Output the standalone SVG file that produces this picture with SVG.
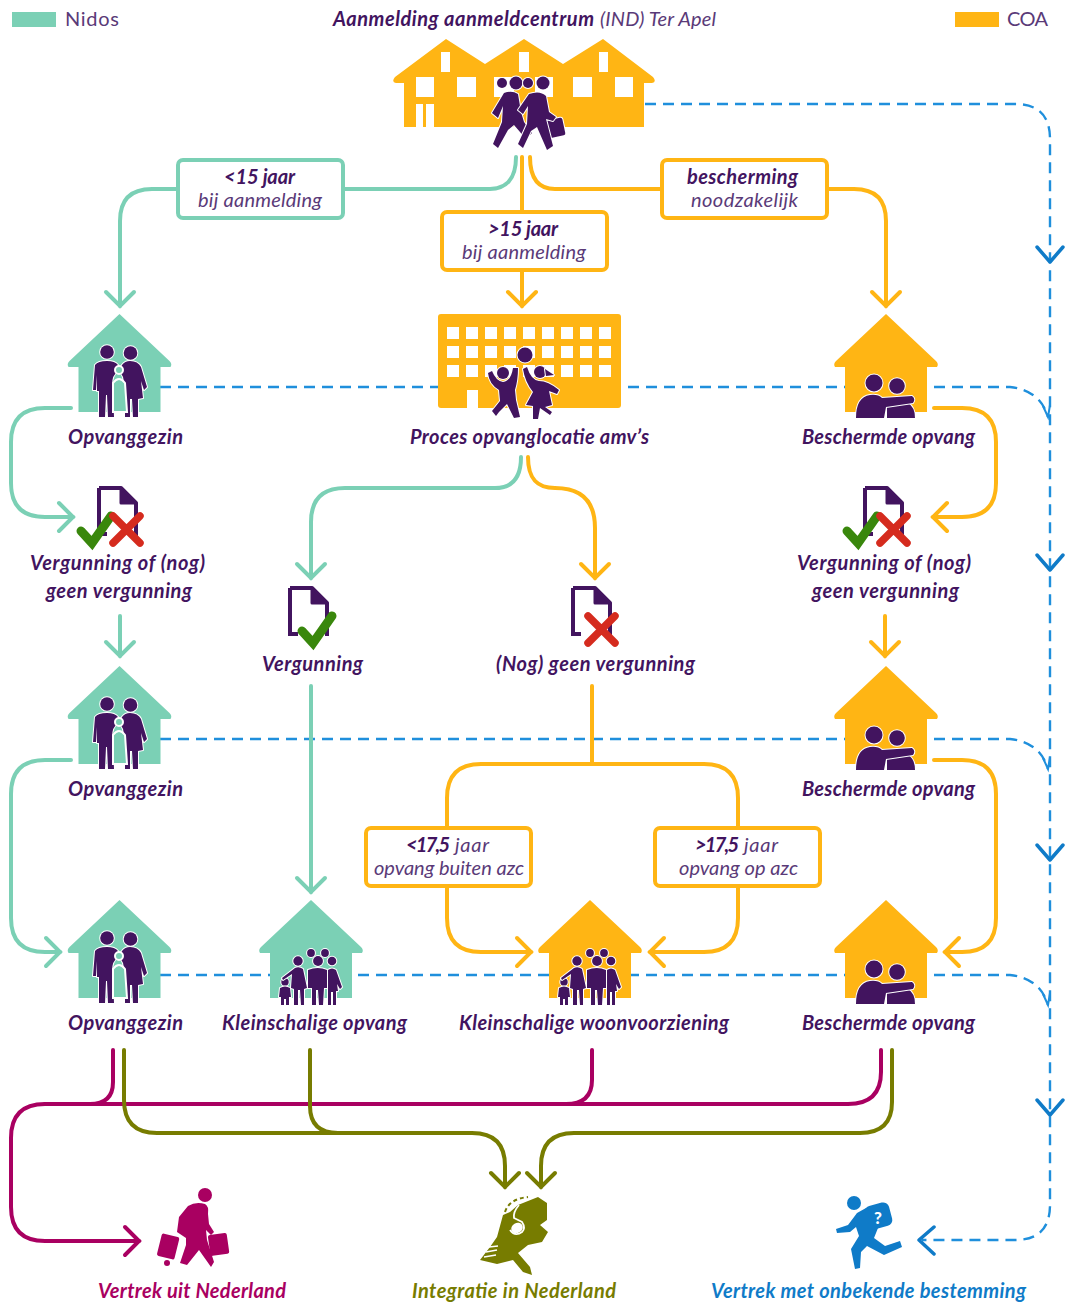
<svg xmlns="http://www.w3.org/2000/svg" width="1065" height="1306" viewBox="0 0 1065 1306">
<style>
text{font-family:"Lato","Open Sans","Liberation Sans",sans-serif;font-style:italic;font-size:20px;fill:#42145f}
.b{font-weight:700}.l{font-weight:400;fill:#5a3a78}
.n{font-style:normal;font-weight:400;fill:#5a3a78}
.c{fill:none;stroke-width:4;stroke-linecap:round;stroke-linejoin:round}
.m{stroke:#7bd0b5}.a{stroke:#ffb514}.r{stroke:#a90061}.o{stroke:#777c00}
.d{fill:none;stroke:#1f8fdc;stroke-width:2.4;stroke-dasharray:11 7}
.box{fill:#fff;stroke-width:4}
.p{fill:#42145f;stroke:#fff;stroke-width:2;paint-order:stroke;stroke-linejoin:round}
.hm{fill:#7bd0b5}.ha{fill:#ffb514}
.w{fill:#fff}
.kid{stroke:#fff;stroke-width:2}
</style>
<defs>
<marker id="am" markerUnits="userSpaceOnUse" markerWidth="30" markerHeight="34" refX="17" refY="17" orient="auto"><path d="M3,3 L17,17 L3,31" fill="none" stroke="#7bd0b5" stroke-width="4" stroke-linecap="round"/></marker>
<marker id="aa" markerUnits="userSpaceOnUse" markerWidth="30" markerHeight="34" refX="17" refY="17" orient="auto"><path d="M3,3 L17,17 L3,31" fill="none" stroke="#ffb514" stroke-width="4" stroke-linecap="round"/></marker>
<marker id="ar" markerUnits="userSpaceOnUse" markerWidth="30" markerHeight="34" refX="17" refY="17" orient="auto"><path d="M3,3 L17,17 L3,31" fill="none" stroke="#a90061" stroke-width="4" stroke-linecap="round"/></marker>
<marker id="ao" markerUnits="userSpaceOnUse" markerWidth="30" markerHeight="34" refX="17" refY="17" orient="auto"><path d="M3,3 L17,17 L3,31" fill="none" stroke="#777c00" stroke-width="4" stroke-linecap="round"/></marker>
<path id="house" d="M0,-1 L50,46 Q53,49 51,52 L41,52 L41,97 L-41,97 L-41,52 L-51,52 Q-53,49 -50,46 Z" stroke-linejoin="round"/>
<g id="fam3">
<circle class="p" cx="-13" cy="37" r="6.8"/><circle class="p" cx="10.500" cy="38" r="6.8"/>
<path class="p" d="M-25,50 Q-22,46 -13,46 Q-5,46 -2,50 L-2,56 Q-8,60 -8,70 L-7,78 L-6,102 L-12,102 L-13,80 L-14,80 L-15,102 L-21,102 L-21,76 L-23,76 L-23,60 L-24,75 L-27,75 Z"/>
<path class="p" d="M2,50 Q5,46 10,46 Q18,46 21,52 L27,72 L24,75 L21,66 L23,83 L18,84 L18,102 L13,102 L12,84 L10,84 L10,102 L5,102 L5,84 L4,70 Q4,60 -1,56 Z"/>
<circle class="kid" cx="-1" cy="55" r="4"/>
<path class="kid" d="M-7,97 L-7,68 Q-1,60 5,68 L7,97 Z"/>
</g>
<g id="couple">
<circle class="p" cx="-12" cy="68" r="8.5"/><circle class="p" cx="11" cy="71" r="7.8"/>
<path class="p" d="M1,103 L1,90 L22,88 Q29,92 29,103 Z"/>
<path class="p" d="M-30,103 Q-30,82 -16,80 Q-8,79 -4,83 L26,81 Q30,84 27,88 L0,92 L-2,103 Z"/>
</g>
<g id="famS">
<circle class="p" cx="0" cy="53" r="3.9"/><circle class="p" cx="14" cy="53" r="3.9"/>
<circle class="p" cx="-13" cy="61" r="4.7"/><circle class="p" cx="7" cy="61" r="4.9"/><circle class="p" cx="21" cy="61" r="4.3"/><circle class="p" cx="-26" cy="82" r="3.7"/>
<path class="p" d="M-29,78 L-16,68 Q-12,66 -8,69 L-4,88 L-7,89 L-7,105 L-10,105 L-11,90 L-13,90 L-13,105 L-17,105 L-17,89 L-20,88 L-19,74 L-28,80 Z"/>
<path class="p" d="M-3,70 Q7,66 16,70 L17,88 L13,88 L12,105 L8,105 L7,90 L5,90 L5,105 L1,105 L1,88 L-3,88 Z"/>
<path class="p" d="M17,70 Q21,67 25,70 L31,87 L29,89 L26,84 L27,91 L25,91 L25,105 L22,105 L22,92 L20,92 L20,105 L17,105 Z"/>
<path class="p" d="M-31,88 Q-26,85 -21,88 L-20,97 L-22,97 L-22,105 L-25,105 L-25,99 L-27,99 L-27,105 L-30,105 L-30,97 L-32,97 Z"/>
</g>
<g id="doc">
<path d="M2,2 L24,2 L39,17 L39,50" fill="none" stroke="#42145f" stroke-width="4" stroke-linejoin="round"/>
<path d="M2,2 L2,48 L10,48" fill="none" stroke="#42145f" stroke-width="4"/>
<path d="M24,2 L39,17 L24,17 Z" fill="#42145f" stroke="#42145f" stroke-width="3" stroke-linejoin="round"/>
</g>
<path id="check" d="M4,20 L15,32 L34,5" fill="none" stroke="#39870c" stroke-width="9" stroke-linecap="round"/>
<path id="cross" d="M6,5 L33,32 M33,5 L6,32" fill="none" stroke="#d52b1e" stroke-width="7.500" stroke-linecap="round"/>
</defs>
<rect width="1065" height="1306" fill="#fff"/>
<g id="connectors">
<g id="dashed">
<path class="d" d="M645,104 L1015,104 Q1050,104 1050,139 L1050,1205 Q1050,1240 1015,1240 L922,1240"/>
<path class="d" d="M160,387 L1010,387 Q1040,390 1048,417"/>
<path class="d" d="M160,739 L1010,739 Q1040,742 1048,769"/>
<path class="d" d="M160,975 L1010,975 Q1040,978 1048,1005"/>
<path d="M1037,247 L1050,262 L1063,247 M1037,555 L1050,570 L1063,555 M1037,845 L1050,860 L1063,845 M1037,1100 L1050,1115 L1063,1100 M934,1227 L919,1240 L934,1254" fill="none" stroke="#0f7bc8" stroke-width="3.500" stroke-linecap="round" stroke-linejoin="round"/>
<path d="M1043,406 L1048,417 L1050,405 M1043,758 L1048,769 L1050,757 M1043,994 L1048,1005 L1050,993" fill="none" stroke="#1f8fdc" stroke-width="2"/>
</g>
<g id="mint-lines">
<path class="c m" marker-end="url(#am)" d="M516,157 C516,180 505,189 490,189 L152,189 Q120,189 120,221 L120,306"/>
<path class="c m" marker-end="url(#am)" d="M71,408 L45,408 Q11,408 11,442 L11,483 Q11,517 45,517 L73,517"/>
<path class="c m" marker-end="url(#am)" d="M120,616 L120,656"/>
<path class="c m" marker-end="url(#am)" d="M71,760 L45,760 Q11,760 11,794 L11,918 Q11,952 45,952 L60,952"/>
<path class="c m" marker-end="url(#am)" d="M521,457 C521,480 510,488 495,488 L345,488 Q311,488 311,522 L311,578"/>
<path class="c m" marker-end="url(#am)" d="M311,686 L311,892"/>
</g>
<g id="amber-lines">
<path class="c a" marker-end="url(#aa)" d="M522,157 L522,306"/>
<path class="c a" marker-end="url(#aa)" d="M530,157 C530,180 540,189 555,189 L854,189 Q886,189 886,221 L886,306"/>
<path class="c a" marker-end="url(#aa)" d="M934,408 L962,408 Q996,408 996,442 L996,483 Q996,517 962,517 L933,517"/>
<path class="c a" marker-end="url(#aa)" d="M885,616 L885,656"/>
<path class="c a" marker-end="url(#aa)" d="M934,760 L962,760 Q996,760 996,794 L996,918 Q996,952 962,952 L945,952"/>
<path class="c a" marker-end="url(#aa)" d="M528,457 C528,480 538,488 555,488 Q595,488 595,528 L595,578"/>
<path class="c a" d="M592,686 L592,764"/>
<path class="c a" marker-end="url(#aa)" d="M592,764 L481,764 Q447,764 447,798 L447,918 Q447,952 481,952 L531,952"/>
<path class="c a" marker-end="url(#aa)" d="M592,764 L704,764 Q738,764 738,798 L738,918 Q738,952 704,952 L650,952"/>
</g>
<g id="magenta-lines">
<path class="c r" marker-end="url(#ar)" d="M113,1050 L113,1082 Q113,1104 90,1104 L45,1104 Q11,1104 11,1138 L11,1207 Q11,1241 45,1241 L139,1241"/>
<path class="c r" d="M45,1104 L848,1104 Q881,1104 881,1072 L881,1050"/>
<path class="c r" d="M592,1050 L592,1080 Q592,1104 566,1104"/>
</g>
<g id="olive-lines">
<path class="c o" marker-end="url(#ao)" d="M124,1050 L124,1100 Q124,1133 157,1133 L472,1133 Q505,1133 505,1166 L505,1187"/>
<path class="c o" d="M310,1050 L310,1106 Q310,1133 338,1133"/>
<path class="c o" marker-end="url(#ao)" d="M892,1050 L892,1102 Q892,1133 860,1133 L574,1133 Q541,1133 541,1166 L541,1187"/>
</g>
</g>

<g id="legend-nidos"><rect x="12" y="12" width="44" height="15" class="hm"/><text class="n" x="65" y="26" textLength="54">Nidos</text></g>
<g id="legend-coa"><rect x="955" y="12" width="44" height="15" class="ha"/><text class="n" x="1007" y="26" textLength="41">COA</text></g>

<g id="aanmelding">
<text y="26"><tspan class="b" x="333" textLength="261">Aanmelding aanmeldcentrum</tspan> <tspan class="l" x="600" textLength="116">(IND) Ter Apel</tspan></text>
<path class="ha" d="M446,39 L485,64 L524,39 L563,64 L603,39 L653,77 Q657,82 652,83 L644,83 L644,127 L404,127 L404,83 L396,83 Q391,82 395,77 Z"/>
<g class="w"><rect x="441" y="52" width="9" height="20"/><rect x="519" y="52" width="10" height="20"/><rect x="599" y="52" width="9" height="20"/><rect x="416" y="77" width="18" height="20"/><rect x="457" y="77" width="19" height="20"/><rect x="494" y="77" width="20" height="20"/><rect x="535" y="77" width="18" height="20"/><rect x="573" y="77" width="19" height="20"/><rect x="615" y="77" width="18" height="20"/><rect x="416" y="104" width="7" height="23"/><rect x="426" y="104" width="8" height="23"/></g>
<circle class="p" cx="502" cy="83" r="5"/><circle class="p" cx="516" cy="83" r="6.500"/><circle class="p" cx="528" cy="83" r="5"/><circle class="p" cx="543" cy="83" r="6.500"/>
<path class="p" d="M504,93 Q512,90 518,94 L521,112 L524,122 L532,133 L526,139 L514,125 L508,130 L498,148 L493,144 L502,122 L503,106 L498,118 L492,113 Z"/>
<rect class="p" x="547" y="119" width="17" height="18" rx="2" transform="rotate(-12 555 128)"/>
<path class="p" d="M529,94 Q540,90 546,96 L549,112 L556,117 L553,121 L546,119 L553,146 L547,150 L537,127 L531,131 L523,148 L518,144 L527,124 L528,106 L523,114 L518,110 Z"/>
</g>

<g id="label-lt15"><rect class="box m" x="178" y="160" width="165" height="58" rx="5"/><text class="b" x="224" y="184" textLength="71">&lt;15 jaar</text><text class="l" x="198" y="207" textLength="124">bij aanmelding</text></g>
<g id="label-gt15"><rect class="box a" x="442" y="212" width="165" height="58" rx="5"/><text class="b" x="488" y="236" textLength="70">&gt;15 jaar</text><text class="l" x="462" y="259" textLength="124">bij aanmelding</text></g>
<g id="label-bescherming"><rect class="box a" x="662" y="160" width="165" height="58" rx="5"/><text class="b" x="687" y="184" textLength="111">bescherming</text><text class="l" x="691" y="207" textLength="107">noodzakelijk</text></g>

<g id="opvanggezin-1"><use href="#house" x="119.500" y="315" class="hm"/><use href="#fam3" x="120" y="315" class="hm"/><text class="b" x="68" y="444" textLength="115">Opvanggezin</text></g>
<g id="proces">
<rect class="ha" x="438" y="314" width="183" height="94" rx="3"/>
<g class="w" id="wins">
<rect x="447" y="327" width="12" height="12"/><rect x="466" y="327" width="12" height="12"/><rect x="485" y="327" width="12" height="12"/><rect x="504" y="327" width="12" height="12"/><rect x="523" y="327" width="12" height="12"/><rect x="542" y="327" width="12" height="12"/><rect x="561" y="327" width="12" height="12"/><rect x="580" y="327" width="12" height="12"/><rect x="599" y="327" width="12" height="12"/>
<rect x="447" y="346" width="12" height="12"/><rect x="466" y="346" width="12" height="12"/><rect x="485" y="346" width="12" height="12"/><rect x="504" y="346" width="12" height="12"/><rect x="523" y="346" width="12" height="12"/><rect x="542" y="346" width="12" height="12"/><rect x="561" y="346" width="12" height="12"/><rect x="580" y="346" width="12" height="12"/><rect x="599" y="346" width="12" height="12"/>
<rect x="447" y="365" width="12" height="12"/><rect x="466" y="365" width="12" height="12"/><rect x="485" y="365" width="12" height="12"/><rect x="504" y="365" width="12" height="12"/><rect x="523" y="365" width="12" height="12"/><rect x="542" y="365" width="12" height="12"/><rect x="561" y="365" width="12" height="12"/><rect x="580" y="365" width="12" height="12"/><rect x="599" y="365" width="12" height="12"/>
<rect x="467" y="390" width="11" height="18"/></g>
<circle class="p" cx="525" cy="355" r="7.500"/><circle class="p" cx="503" cy="373" r="6"/><circle class="p" cx="540" cy="372" r="6"/>
<path class="p" d="M488,373 L492,371 Q496,381 503,382 Q511,381 513,368 L518,368 Q518,380 515,390 L516,400 L520,417 L514,418 L507,404 L499,412 L496,416 L492,411 L500,401 L499,390 Q489,384 488,373 Z"/>
<path class="p" d="M523,369 L527,367 Q531,380 539,381 Q548,381 559,390 L557,394 L549,391 L552,405 L545,407 L552,412 L550,415 L540,408 L538,419 L533,419 L533,406 L526,405 L533,392 Q525,382 523,369 Z"/>
<path class="p" d="M545,369 L554,375 L546,376 Z"/>
<text class="b" x="410" y="444" textLength="239">Proces opvanglocatie amv’s</text></g>
<g id="beschermd-1"><use href="#house" x="886" y="315" class="ha"/><use href="#couple" x="886" y="315"/><text class="b" x="802" y="444" textLength="173">Beschermde opvang</text></g>

<g id="keuze-links"><use href="#doc" x="97" y="486"/><use href="#check" x="77" y="511"/><use href="#cross" x="107" y="511"/><text class="b" x="30" y="570" textLength="175">Vergunning of (nog)</text><text class="b" x="46" y="598" textLength="146">geen vergunning</text></g>
<g id="keuze-rechts"><use href="#doc" x="863" y="486"/><use href="#check" x="843" y="511"/><use href="#cross" x="874" y="511"/><text class="b" x="797" y="570" textLength="174">Vergunning of (nog)</text><text class="b" x="812" y="598" textLength="147">geen vergunning</text></g>
<g id="vergunning"><use href="#doc" x="288" y="586"/><use href="#check" x="298" y="611"/><text class="b" x="262" y="671" textLength="101">Vergunning</text></g>
<g id="geen-vergunning"><use href="#doc" x="571" y="586"/><use href="#cross" x="582" y="611"/><text class="b" x="496" y="671" textLength="199">(Nog) geen vergunning</text></g>

<g id="opvanggezin-2"><use href="#house" x="119.500" y="667" class="hm"/><use href="#fam3" x="120" y="667" class="hm"/><text class="b" x="68" y="796" textLength="115">Opvanggezin</text></g>
<g id="beschermd-2"><use href="#house" x="886" y="667" class="ha"/><use href="#couple" x="886" y="667"/><text class="b" x="802" y="796" textLength="173">Beschermde opvang</text></g>

<g id="label-lt175"><rect class="box a" x="366" y="828" width="165" height="58" rx="5"/><text y="852"><tspan class="b" x="406" textLength="44">&lt;17,5</tspan> <tspan class="l" x="455" textLength="34">jaar</tspan></text><text class="l" x="374" y="875" textLength="150">opvang buiten azc</text></g>
<g id="label-gt175"><rect class="box a" x="655" y="828" width="165" height="58" rx="5"/><text y="852"><tspan class="b" x="695" textLength="44">&gt;17,5</tspan> <tspan class="l" x="744" textLength="34">jaar</tspan></text><text class="l" x="679" y="875" textLength="119">opvang op azc</text></g>

<g id="opvanggezin-3"><use href="#house" x="119.500" y="901" class="hm"/><use href="#fam3" x="120" y="901" class="hm"/><text class="b" x="68" y="1030" textLength="115">Opvanggezin</text></g>
<g id="kleinschalige-opvang"><use href="#house" x="311" y="901" class="hm"/><use href="#famS" x="311" y="900"/><text class="b" x="222" y="1030" textLength="185">Kleinschalige opvang</text></g>
<g id="kleinschalige-woon"><use href="#house" x="590" y="901" class="ha"/><use href="#famS" x="590" y="900"/><text class="b" x="459" y="1030" textLength="270">Kleinschalige woonvoorziening</text></g>
<g id="beschermd-3"><use href="#house" x="886" y="901" class="ha"/><use href="#couple" x="886" y="901"/><text class="b" x="802" y="1030" textLength="173">Beschermde opvang</text></g>

<g id="vertrek">
<g fill="#a90061">
<circle cx="205" cy="1195" r="7"/>
<path d="M188,1206 Q196,1201 205,1204 Q209,1206 208,1214 L209,1224 L214,1232 L211,1235 L206,1230 L207,1240 L214,1262 L211,1267 L199,1250 L187,1265 L180,1263 L186,1245 L186,1238 L180,1234 L177,1232 L179,1217 Z"/>
<rect x="159" y="1235" width="18" height="23" rx="2" transform="rotate(14 168 1247)"/>
<rect x="209" y="1234" width="19" height="21" rx="2" transform="rotate(-8 218 1244)"/>
<circle cx="167" cy="1263" r="3"/>
</g>
<text class="b" style="fill:#a90061" x="98" y="1298" textLength="188">Vertrek uit Nederland</text></g>

<g id="integratie">
<path fill="#777c00" d="M518,1205 L538,1197 L547,1203 L547,1220 L540,1225 L548,1232 L542,1242 L528,1245 L518,1253 L530,1267 L532,1275 L523,1272 L513,1260 L497,1264 L480,1260 L490,1247 L497,1237 L503,1215 L510,1212 Z"/>
<ellipse cx="517" cy="1228" rx="6" ry="5" fill="#fff" transform="rotate(-30 517 1228)"/>
<path d="M519,1205 Q513,1212 514,1218 L522,1222 Q526,1228 522,1232 Q515,1237 510,1230" fill="none" stroke="#fff" stroke-width="1.800"/>
<path d="M484,1257 L496,1255 M486,1252 L497,1250 M489,1247 L498,1246" fill="none" stroke="#fff" stroke-width="1.500"/>
<path d="M505,1212 Q509,1199 528,1197" fill="none" stroke="#777c00" stroke-width="2" stroke-dasharray="4 3"/>
<text class="b" style="fill:#777c00" x="412" y="1298" textLength="204">Integratie in Nederland</text></g>

<g id="onbekend">
<g fill="#0f7bc8">
<circle cx="854" cy="1203" r="7"/>
<rect x="866" y="1204" width="25" height="24" rx="6" transform="rotate(-15 878 1216)"/>
<path d="M857,1213 L866,1208 Q877,1214 878,1228 L874,1238 L885,1246 L900,1241 L902,1247 L884,1255 L867,1246 L861,1252 L860,1268 L855,1269 L851,1249 L859,1236 L856,1227 L850,1232 L837,1233 L836,1229 L848,1225 Z"/>
</g>
<text style="fill:#fff;font-size:17px;font-weight:900;font-style:normal" x="874" y="1224">?</text>
<text class="b" style="fill:#0f7bc8" x="711" y="1298" textLength="315">Vertrek met onbekende bestemming</text></g>
</svg>
